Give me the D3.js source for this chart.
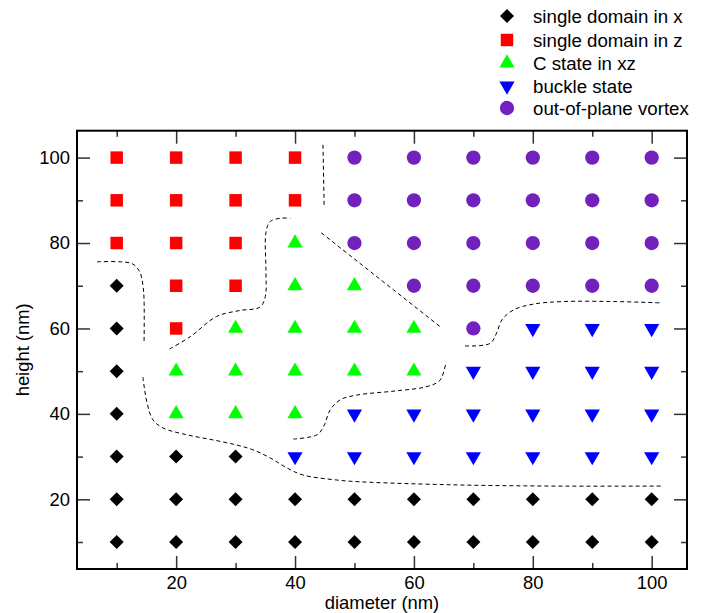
<!DOCTYPE html>
<html>
<head>
<meta charset="utf-8">
<script src="https://cdn.jsdelivr.net/npm/d3@7"></script>
<style>
  body { margin: 0; background: #fff; }
  text { font-family: "Liberation Sans", Arial, sans-serif; }
</style>
</head>
<body>
<div id="chart"></div>
<script>
// phase diagram points, [diameter, height] in nm
var singleX = [
  [10,10],[10,20],[10,30],[10,40],[10,50],[10,60],[10,70],
  [20,10],[20,20],[20,30],[30,10],[30,20],[30,30],
  [40,10],[40,20],[50,10],[50,20],[60,10],[60,20],[70,10],[70,20],
  [80,10],[80,20],[90,10],[90,20],[100,10],[100,20]
];
var singleZ = [
  [10,80],[10,90],[10,100],[20,60],[20,70],[20,80],[20,90],[20,100],
  [30,70],[30,80],[30,90],[30,100],[40,90],[40,100]
];
var cState = [
  [20,40],[20,50],[30,40],[30,50],[30,60],
  [40,40],[40,50],[40,60],[40,70],[40,80],
  [50,50],[50,60],[50,70],[60,50],[60,60]
];
var buckle = [
  [40,30],[50,30],[50,40],[60,30],[60,40],[70,30],[70,40],[70,50],
  [80,30],[80,40],[80,50],[80,60],[90,30],[90,40],[90,50],[90,60],
  [100,30],[100,40],[100,50],[100,60]
];
var vortex = [
  [50,80],[50,90],[50,100],[60,70],[60,80],[60,90],[60,100],
  [70,60],[70,70],[70,80],[70,90],[70,100],
  [80,70],[80,80],[80,90],[80,100],[90,70],[90,80],[90,90],[90,100],
  [100,70],[100,80],[100,90],[100,100]
];

// hand-drawn phase boundaries (dashed), in data units
var boundaries = [
  [[6.7,75.6],[10.6,75.6],[12.7,75.1],[13.9,73.2],[14.4,70.2],[14.6,66.7],[14.6,56.6]],
  [[14.4,48.6],[15.1,42.6],[16.1,38.6],[17.8,36.7],[21.8,35.1],[26.2,33.9],[30.2,32.7],
   [32.9,31.6],[35.8,29.7],[38.7,27.3],[41.3,25.7],[47.1,24.5],[50.9,24.1],[66.1,23.4],
   [82.9,23.1],[101.9,23.1]],
  [[18.9,55.2],[22.4,58.1],[26.8,62.8],[30.7,64.2],[34.1,65.0],[35.0,67.5],[35.1,73.7],
   [35.1,82.4],[35.8,85.0],[37.5,85.8],[39.2,85.8]],
  [[44.7,103.0],[44.9,88.5]],
  [[44.4,82.4],[64.7,60.1]],
  [[39.7,34.1],[43.7,35.1],[44.8,37.0],[45.9,40.9],[47.6,43.3],[50.4,44.4],[57.1,45.4],
   [62.2,46.4],[64.4,47.9],[65.4,52.2]],
  [[68.6,55.9],[72.8,56.5],[73.9,58.9],[74.8,62.0],[76.7,64.3],[80.1,65.7],[85.1,66.3],
   [93.6,66.3],[101.4,66.0]]
];

var majorTicks = [20, 40, 60, 80, 100];
var minorTicks = [10, 30, 50, 70, 90];

var series = [
  { label: 'single domain in x', data: singleX, type: 'diamond', colour: '#000000' },
  { label: 'single domain in z', data: singleZ, type: 'square', colour: '#ff0000' },
  { label: 'C state in xz', data: cState, type: 'up', colour: '#00ff00' },
  { label: 'buckle state', data: buckle, type: 'down', colour: '#0000ff' },
  { label: 'out-of-plane vortex', data: vortex, type: 'circle', colour: 'rgb(114,33,188)' }
];

var width = 711, height = 613;
var plotLeft = 77, plotRight = 687, plotTop = 130.7, plotBottom = 569;

var svg = d3.select('#chart').append('svg')
  .attr('width', width)
  .attr('height', height);

var x = d3.scaleLinear().domain([3.32, 105.94]).range([plotLeft, plotRight]);
var y = d3.scaleLinear().domain([3.68, 106.3]).range([plotBottom, plotTop]);

function symbolPath(type) {
  if(type === 'diamond') return d3.symbol(d3.symbolSquare, 98)();
  if(type === 'square') return d3.symbol(d3.symbolSquare, 156)();
  if(type === 'circle') return d3.symbol(d3.symbolCircle, 160)();
  return d3.symbol(d3.symbolTriangle, 100)();
}
function symbolRotate(type) {
  if(type === 'diamond') return ' rotate(45)';
  if(type === 'down') return ' rotate(180)';
  return '';
}

// ticks, inward on all four sides
function addTicks(axisFn, values, size, transform, labels) {
  var g = svg.append('g')
    .attr('transform', transform)
    .call(axisFn.tickValues(values).tickSize(-size).tickPadding(labels ? 7 : 0)
      .tickFormat(labels ? d3.format('d') : ''));
  g.select('.domain').remove();
  g.selectAll('line').attr('stroke', '#333').attr('stroke-width', 1.5);
  g.selectAll('text').attr('font-size', 18.4).attr('fill', '#000')
    .style('font-family', '"Liberation Sans", Arial, sans-serif');
  return g;
}
addTicks(d3.axisBottom(x), majorTicks, 13, 'translate(0,' + plotBottom + ')', true);
addTicks(d3.axisBottom(x), minorTicks, 6, 'translate(0,' + plotBottom + ')', false);
addTicks(d3.axisTop(x), majorTicks, 13, 'translate(0,' + plotTop + ')', false);
addTicks(d3.axisTop(x), minorTicks, 6, 'translate(0,' + plotTop + ')', false);
addTicks(d3.axisLeft(y), majorTicks, 13, 'translate(' + plotLeft + ',0)', true);
addTicks(d3.axisLeft(y), minorTicks, 6, 'translate(' + plotLeft + ',0)', false);
addTicks(d3.axisRight(y), majorTicks, 13, 'translate(' + plotRight + ',0)', false);
addTicks(d3.axisRight(y), minorTicks, 6, 'translate(' + plotRight + ',0)', false);

svg.append('rect')
  .attr('x', plotLeft)
  .attr('y', plotTop)
  .attr('width', plotRight - plotLeft)
  .attr('height', plotBottom - plotTop)
  .attr('fill', 'none')
  .attr('stroke', '#000')
  .attr('stroke-width', 2);

// dashed boundaries
var line = d3.line()
  .x(d => x(d[0]))
  .y(d => y(d[1]))
  .curve(d3.curveCatmullRom.alpha(0.5));
svg.append('g')
  .attr('class', 'boundaries')
  .selectAll('path')
  .data(boundaries)
  .join('path')
  .attr('d', line)
  .attr('fill', 'none')
  .attr('stroke', '#000')
  .attr('stroke-width', 1)
  .attr('stroke-dasharray', '4,3');

// markers
var groups = svg.append('g')
  .attr('class', 'points')
  .selectAll('g.series')
  .data(series)
  .join('g')
  .attr('class', 'series');
groups.selectAll('path')
  .data(s => s.data.map(p => ({ p: p, s: s })))
  .join('path')
  .attr('d', d => symbolPath(d.s.type))
  .attr('transform', d => 'translate(' + x(d.p[0]) + ',' + y(d.p[1]) + ')' + symbolRotate(d.s.type))
  .attr('fill', d => d.s.colour);

// legend
var legendY = [16, 40, 63, 86, 108];
var legend = svg.append('g')
  .attr('class', 'legend')
  .selectAll('g')
  .data(series)
  .join('g')
  .attr('transform', (d, i) => 'translate(507,' + legendY[i] + ')');
legend.append('path')
  .attr('d', d => symbolPath(d.type))
  .attr('transform', d => symbolRotate(d.type).trim())
  .attr('fill', d => d.colour);
legend.append('text')
  .attr('x', 26)
  .attr('dy', '0.35em')
  .attr('font-size', 18.7)
  .text(d => d.label);

// axis titles
svg.append('text')
  .attr('x', (plotLeft + plotRight) / 2)
  .attr('y', 609)
  .attr('text-anchor', 'middle')
  .attr('font-size', 18.4)
  .text('diameter (nm)');
svg.append('text')
  .attr('transform', 'translate(29,' + ((plotTop + plotBottom) / 2) + ') rotate(-90)')
  .attr('text-anchor', 'middle')
  .attr('font-size', 18.4)
  .text('height (nm)');
</script>
</body>
</html>
